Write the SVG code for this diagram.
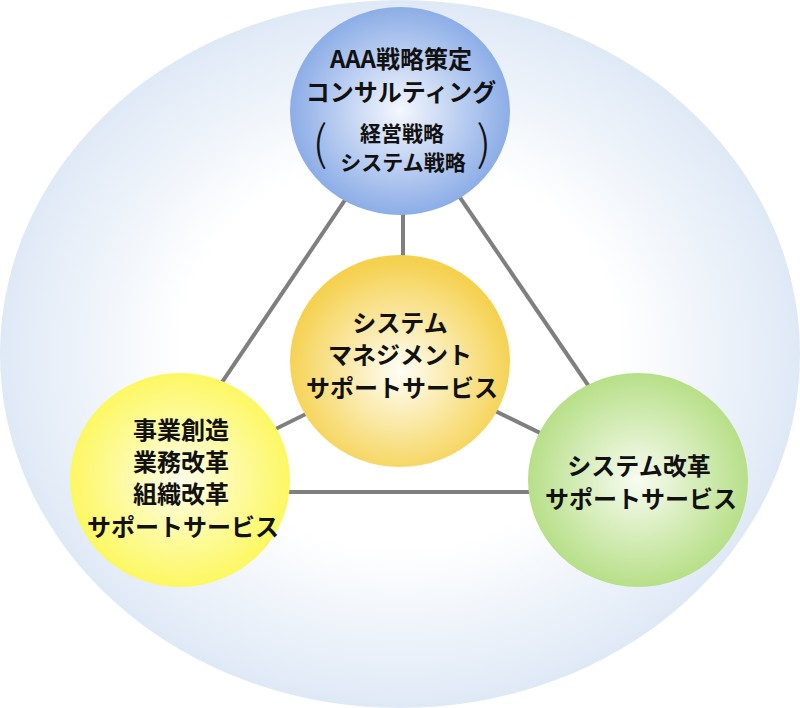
<svg xmlns="http://www.w3.org/2000/svg" width="800" height="708" viewBox="0 0 800 708">
<defs>
<radialGradient id="bg" cx="50%" cy="50%" r="50%">
<stop offset="0" stop-color="#ffffff"/>
<stop offset="0.55" stop-color="#ffffff"/>
<stop offset="1" stop-color="#dfe9f6"/>
</radialGradient>
<radialGradient id="gBlue" cx="50%" cy="50%" r="50%">
<stop offset="0" stop-color="#f4f7fd"/>
<stop offset="1" stop-color="#8cade7"/>
</radialGradient>
<radialGradient id="gGold" cx="50%" cy="55%" r="52%">
<stop offset="0" stop-color="#fffef6"/>
<stop offset="1" stop-color="#f5d14f"/>
</radialGradient>
<radialGradient id="gYellow" cx="50%" cy="50%" r="50%">
<stop offset="0" stop-color="#fffdea"/>
<stop offset="1" stop-color="#fcf862"/>
</radialGradient>
<radialGradient id="gGreen" cx="50%" cy="50%" r="50%">
<stop offset="0" stop-color="#f8fcf1"/>
<stop offset="1" stop-color="#b7df88"/>
</radialGradient>
</defs>
<style>
.lbl{font-family:"Noto Sans CJK JP","Noto Sans",sans-serif;font-weight:bold;font-size:24px;fill:#111;text-anchor:middle}
.sm{font-size:21px}
.par{font-family:"Noto Sans CJK JP",sans-serif;font-weight:300;font-size:47px;fill:#111;text-anchor:middle}
.conn{stroke:#7f7f7f;stroke-width:4;fill:none}
</style>
<ellipse cx="400" cy="354" rx="400" ry="354" fill="url(#bg)"/>
<g id="connectors">
<line class="conn" x1="403" y1="114" x2="148" y2="492"/>
<line class="conn" x1="403" y1="114" x2="661" y2="492"/>
<line class="conn" x1="148" y1="492" x2="661" y2="492"/>
<line class="conn" x1="403" y1="366" x2="403" y2="114"/>
<line class="conn" x1="403" y1="366" x2="148" y2="492"/>
<line class="conn" x1="403" y1="366" x2="661" y2="492"/>
</g>
<g id="node-top">
<ellipse cx="400" cy="111" rx="110" ry="104" fill="url(#gBlue)"/>
<text class="lbl" x="401" y="68">AAA戦略策定</text>
<text class="lbl" x="401" y="101">コンサルティング</text>
<text class="lbl sm" x="402" y="141">経営戦略</text>
<text class="lbl sm" x="403" y="170">システム戦略</text>
<text class="par" x="320" y="160">(</text>
<text class="par" x="484" y="160">)</text>
</g>
<g id="node-center">
<ellipse cx="400" cy="361" rx="110" ry="106" fill="url(#gGold)"/>
<text class="lbl" x="400" y="332">システム</text>
<text class="lbl" x="400" y="364">マネジメント</text>
<text class="lbl" x="402" y="397">サポートサービス</text>
</g>
<g id="node-left">
<ellipse cx="180" cy="480" rx="110" ry="107" fill="url(#gYellow)"/>
<text class="lbl" x="181" y="439">事業創造</text>
<text class="lbl" x="181" y="471">業務改革</text>
<text class="lbl" x="181" y="503">組織改革</text>
<text class="lbl" x="183" y="536">サポートサービス</text>
</g>
<g id="node-right">
<ellipse cx="638" cy="480" rx="110" ry="107" fill="url(#gGreen)"/>
<text class="lbl" x="639" y="475">システム改革</text>
<text class="lbl" x="641" y="508">サポートサービス</text>
</g>
</svg>
